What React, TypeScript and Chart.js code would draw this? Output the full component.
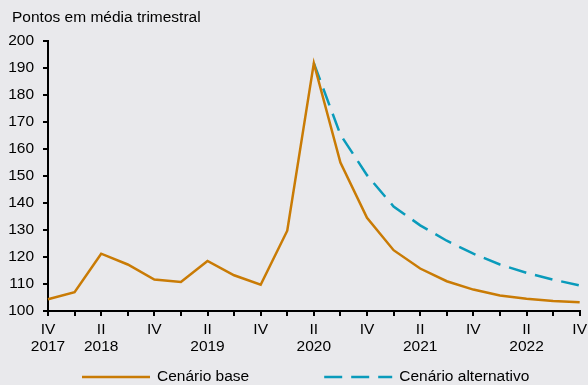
import React, { useEffect, useRef } from "react";
import { Chart, registerables } from "chart.js";

Chart.register(...registerables);

const quarterLabels = ["IV", "", "II", "", "IV", "", "II", "", "IV", "", "II", "", "IV", "", "II", "", "IV", "", "II", "", "IV"];
const yearLabels = ["2017", "", "2018", "", "", "", "2019", "", "", "", "2020", "", "", "", "2021", "", "", "", "2022", "", ""];

const baseScenario = [104.3, 106.9, 121.2, 117.2, 111.6, 110.7, 118.5, 113.2, 109.7, 129.7, 191.8, 155.0, 134.5, 122.5, 115.7, 111.0, 107.9, 105.7, 104.5, 103.7, 103.2];
const altScenario = [null, null, null, null, null, null, null, null, null, null, 191.8, 165.3, 150.3, 138.7, 131.7, 126.0, 121.2, 117.2, 114.1, 111.6, 109.4];

const seriesNames = ["Cenário base", "Cenário alternativo"];
const titleText = "Pontos em média trimestral";
const yTicks = { min: 100, max: 200, step: 10 };

const FONT = "'Liberation Sans', Arial, sans-serif";
const ORANGE = "#c97b05";
const TEAL = "#0a9bbb";

const textPlugin = {
  id: "customTexts",
  afterDraw(chart: any) {
    const ctx = chart.ctx;
    const area = chart.chartArea;
    ctx.save();
    ctx.font = `15.5px ${FONT}`;
    ctx.textBaseline = "middle";
    ctx.textAlign = "left";
    ctx.fillStyle = "#000";
    // title
    ctx.fillText(titleText, area.left - 36, area.top - 23);
    // legend
    const y = chart.height - 8;
    const lineLen = 68;
    const gapText = 7;
    const gapItem = 75;
    let x = area.left + 34;
    chart.data.datasets.forEach((ds: any) => {
      ctx.beginPath();
      ctx.setLineDash(ds.borderDash || []);
      ctx.strokeStyle = ds.borderColor;
      ctx.lineWidth = ds.borderWidth;
      ctx.moveTo(x, y);
      ctx.lineTo(x + lineLen, y);
      ctx.stroke();
      ctx.setLineDash([]);
      ctx.fillStyle = "#000";
      ctx.fillText(ds.label, x + lineLen + gapText, y);
      x += lineLen + gapText + ctx.measureText(ds.label).width + gapItem;
    });
    ctx.restore();
  },
};

export default function App() {
  const canvasRef = useRef<HTMLCanvasElement>(null);

  useEffect(() => {
    document.body.style.margin = "0";
    const labels = quarterLabels.map((q, i) => [q, yearLabels[i]]);
    const chart = new Chart(canvasRef.current!, {
      type: "line",
      data: {
        labels,
        datasets: [
          {
            label: seriesNames[0],
            data: baseScenario,
            borderColor: ORANGE,
            backgroundColor: ORANGE,
            borderWidth: 2.5,
            pointRadius: 0,
            tension: 0,
            fill: false,
          },
          {
            label: seriesNames[1],
            data: altScenario,
            borderColor: TEAL,
            backgroundColor: TEAL,
            borderWidth: 2.5,
            borderDash: [18, 9],
            pointRadius: 0,
            tension: 0,
            fill: false,
            spanGaps: false,
          },
        ],
      },
      options: {
        responsive: false,
        animation: false,
        layout: { padding: { left: 8, right: 0, top: 41, bottom: 25 } },
        plugins: {
          legend: { display: false },
          tooltip: { enabled: false },
          title: { display: false },
        },
        scales: {
          x: {
            type: "category",
            offset: false,
            grid: {
              display: true,
              drawOnChartArea: false,
              drawTicks: true,
              tickLength: 5,
              color: "#000",
              lineWidth: 2,
            },
            border: { display: true, color: "#000", width: 2 },
            ticks: {
              autoSkip: false,
              maxRotation: 0,
              minRotation: 0,
              padding: 5,
              color: "#000",
              font: { family: FONT, size: 15.5, lineHeight: 1.1 },
            },
          },
          y: {
            min: yTicks.min,
            max: yTicks.max,
            afterFit: (scale: any) => {
              scale.width = 40;
            },
            grid: {
              display: true,
              drawOnChartArea: false,
              drawTicks: true,
              tickLength: 5,
              color: "#000",
              lineWidth: 2,
            },
            border: { display: true, color: "#000", width: 2 },
            ticks: {
              stepSize: yTicks.step,
              padding: 9,
              color: "#000",
              font: { family: FONT, size: 15.5 },
            },
          },
        },
      },
      plugins: [textPlugin],
    });
    return () => chart.destroy();
  }, []);

  return (
    <div
      style={{
        position: "fixed",
        left: 0,
        top: 0,
        width: 588,
        height: 385,
        overflow: "hidden",
        background: "#e9e9ec",
      }}
    >
      <canvas ref={canvasRef} width={592} height={385} style={{ width: 592, height: 385, display: "block" }} />
    </div>
  );
}
